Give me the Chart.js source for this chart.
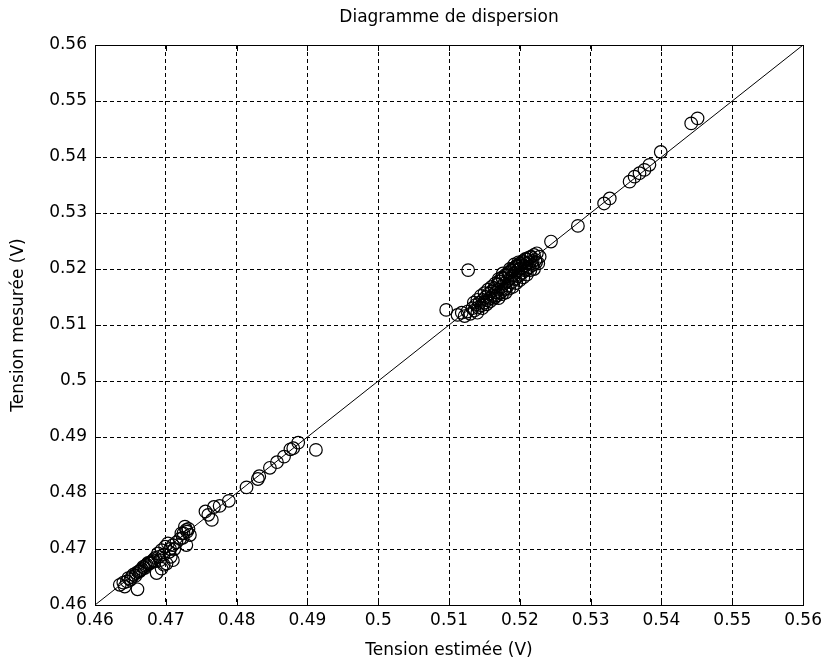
<!DOCTYPE html>
<html>
<head>
<meta charset="utf-8">
<script src="https://cdn.jsdelivr.net/npm/chart.js@4.4.1/dist/chart.umd.min.js"></script>
<style>
  html, body { margin: 0; padding: 0; background: #fff; }
  #wrap { width: 827px; height: 666px; position: relative; }
</style>
</head>
<body>
<div id="wrap"><canvas id="c" width="827" height="666"></canvas></div>
<script>
// ---- Data ----
const chartTitle = 'Diagramme de dispersion';
const xTitle = 'Tension estimée (V)';
const yTitle = 'Tension mesurée (V)';

const tickValues = [0.46, 0.47, 0.48, 0.49, 0.50, 0.51, 0.52, 0.53, 0.54, 0.55, 0.56];
const tickLabels = ['0.46', '0.47', '0.48', '0.49', '0.5', '0.51', '0.52', '0.53', '0.54', '0.55', '0.56'];

// estimated voltage (x)
const estimated = [
  // lower cluster
  0.4635, 0.4642, 0.4660, 0.4647, 0.4650, 0.4654, 0.4657, 0.4661, 0.4664, 0.4668,
  0.4671, 0.4675, 0.4678, 0.4682, 0.4685, 0.4687, 0.4694, 0.4701, 0.4710, 0.4689,
  0.4694, 0.4699, 0.4703, 0.4710, 0.4706, 0.4729, 0.4725, 0.4729, 0.4727, 0.4734,
  0.4732,
  0.4640, 0.4645, 0.4652, 0.4658, 0.4663, 0.4666, 0.4670, 0.4673, 0.4677, 0.4680,
  0.4684, 0.4690, 0.4692, 0.4697, 0.4697, 0.4705, 0.4707, 0.4712, 0.4715, 0.4720,
  0.4722, 0.4724, 0.4730,
  // 0.476 - 0.49
  0.4756, 0.4760, 0.4765, 0.4768, 0.4776, 0.4789,
  0.4814, 0.4830, 0.4832, 0.4847, 0.4857, 0.4867, 0.4876, 0.4880, 0.4887, 0.4912,
  // outliers near 0.51
  0.5096, 0.5127,
  // middle cluster
  0.5112, 0.5118, 0.5122, 0.5126, 0.5130, 0.5133, 0.5136, 0.5138, 0.5141, 0.5143,
  0.5146, 0.5148, 0.5150, 0.5152, 0.5154, 0.5156, 0.5158, 0.5160, 0.5162, 0.5164,
  0.5166, 0.5168, 0.5170, 0.5172, 0.5174, 0.5176, 0.5178, 0.5180, 0.5182, 0.5184,
  0.5186, 0.5188, 0.5190, 0.5192, 0.5194, 0.5196, 0.5198, 0.5200, 0.5202, 0.5204,
  0.5206, 0.5208, 0.5210, 0.5212, 0.5214, 0.5216, 0.5218, 0.5220, 0.5222, 0.5224,
  0.5226, 0.5228, 0.5186, 0.5192, 0.5198, 0.5176, 0.5170, 0.5200, 0.5210, 0.5180,
  0.5135, 0.5140, 0.5145, 0.5150, 0.5155, 0.5160, 0.5165, 0.5170, 0.5175, 0.5180,
  0.5185, 0.5190, 0.5195, 0.5200, 0.5205, 0.5210, 0.5215,
  0.5140, 0.5147, 0.5153, 0.5158, 0.5163, 0.5168, 0.5173, 0.5178, 0.5183, 0.5188,
  0.5193, 0.5198, 0.5203, 0.5208, 0.5213, 0.5218, 0.5223,
  0.5215, 0.5205, 0.5195, 0.5185, 0.5175, 0.5165,
  0.5200, 0.5210, 0.5190, 0.5180, 0.5170, 0.5220,
  // upper points
  0.5244, 0.5282, 0.5319, 0.5327, 0.5355, 0.5362, 0.5369, 0.5376, 0.5383, 0.5399,
  0.5442, 0.5451
];
// measured voltage (y)
const measured = [
  // lower cluster
  0.4636, 0.4633, 0.4628, 0.4648, 0.4645, 0.4654, 0.4652, 0.4659, 0.4662, 0.4668,
  0.4670, 0.4675, 0.4676, 0.4680, 0.4684, 0.4657, 0.4665, 0.4674, 0.4680, 0.4692,
  0.4698, 0.4704, 0.4710, 0.4707, 0.4700, 0.4707, 0.4728, 0.4734, 0.4740, 0.4725,
  0.4736,
  0.4640, 0.4642, 0.4650, 0.4657, 0.4660, 0.4664, 0.4666, 0.4672, 0.4674, 0.4677,
  0.4678, 0.4686, 0.4680, 0.4690, 0.4672, 0.4695, 0.4686, 0.4700, 0.4712, 0.4718,
  0.4728, 0.4720, 0.4731,
  // 0.476 - 0.49
  0.4767, 0.4761, 0.4752, 0.4775, 0.4777, 0.4786,
  0.4810, 0.4825, 0.4830, 0.4845, 0.4855, 0.4865, 0.4878, 0.4880, 0.4890, 0.4877,
  // outliers near 0.51
  0.5127, 0.5198,
  // middle cluster
  0.5118, 0.5122, 0.5116, 0.5124, 0.5120, 0.5130, 0.5126, 0.5136, 0.5131, 0.5140,
  0.5135, 0.5145, 0.5140, 0.5150, 0.5144, 0.5156, 0.5148, 0.5160, 0.5152, 0.5166,
  0.5158, 0.5172, 0.5163, 0.5178, 0.5168, 0.5183, 0.5174, 0.5188, 0.5178, 0.5193,
  0.5183, 0.5197, 0.5188, 0.5202, 0.5193, 0.5206, 0.5198, 0.5210, 0.5202, 0.5214,
  0.5206, 0.5218, 0.5210, 0.5220, 0.5212, 0.5222, 0.5214, 0.5225, 0.5216, 0.5228,
  0.5210, 0.5222, 0.5200, 0.5208, 0.5212, 0.5192, 0.5182, 0.5190, 0.5200, 0.5165,
  0.5140, 0.5145, 0.5152, 0.5157, 0.5163, 0.5168, 0.5174, 0.5178, 0.5185, 0.5190,
  0.5195, 0.5200, 0.5205, 0.5207, 0.5212, 0.5217, 0.5221,
  0.5122, 0.5130, 0.5137, 0.5142, 0.5147, 0.5153, 0.5158, 0.5163, 0.5170, 0.5176,
  0.5182, 0.5187, 0.5193, 0.5197, 0.5203, 0.5207, 0.5212,
  0.5198, 0.5185, 0.5175, 0.5165, 0.5155, 0.5150,
  0.5180, 0.5190, 0.5168, 0.5158, 0.5148, 0.5200,
  // upper points
  0.5249, 0.5277, 0.5317, 0.5326, 0.5356, 0.5365, 0.5371, 0.5377, 0.5386, 0.5409,
  0.5460, 0.5469
];
// identity reference line y = x
const lineX = [0.46, 0.56];
const lineY = [0.46, 0.56];

const FONT = 'DejaVu Sans';
const FONT_SIZE = 17;

const scatterPoints = estimated.map((x, i) => ({ x: x, y: measured[i] }));
const linePoints = lineX.map((x, i) => ({ x: x, y: lineY[i] }));

const boxPlugin = {
  id: 'matlabBox',
  afterDraw(chart) {
    const { ctx, chartArea: a, scales } = chart;
    ctx.save();
    ctx.strokeStyle = '#000';
    ctx.lineWidth = 1;
    ctx.setLineDash([]);
    ctx.strokeRect(Math.round(a.left) + 0.5, Math.round(a.top) + 0.5,
                   Math.round(a.right - a.left), Math.round(a.bottom - a.top));
    const tl = 6;
    ctx.beginPath();
    tickValues.forEach(v => {
      const px = Math.round(scales.x.getPixelForValue(v)) + 0.5;
      ctx.moveTo(px, a.bottom); ctx.lineTo(px, a.bottom - tl);
      ctx.moveTo(px, a.top); ctx.lineTo(px, a.top + tl);
      const py = Math.round(scales.y.getPixelForValue(v)) + 0.5;
      ctx.moveTo(a.left, py); ctx.lineTo(a.left + tl, py);
      ctx.moveTo(a.right, py); ctx.lineTo(a.right - tl, py);
    });
    ctx.stroke();
    ctx.fillStyle = '#000';
    ctx.font = FONT_SIZE + 'px "' + FONT + '"';
    ctx.textAlign = 'center';
    ctx.textBaseline = 'middle';
    const cx = (a.left + a.right) / 2;
    ctx.fillText(chartTitle, cx, 18);
    ctx.fillText(xTitle, cx, 651);
    ctx.translate(19, (a.top + a.bottom) / 2);
    ctx.rotate(-Math.PI / 2);
    ctx.fillText(yTitle, 0, 0);
    ctx.restore();
  }
};

const axisCommon = (isX) => ({
  type: 'linear',
  min: 0.46,
  max: 0.56,
  afterBuildTicks: (scale) => { scale.ticks = tickValues.map(v => ({ value: v })); },
  afterFit: (scale) => { if (isX) scale.height = 61; else scale.width = 95; },
  ticks: {
    color: '#000',
    font: { family: FONT, size: FONT_SIZE },
    padding: isX ? 5 : 8,
    maxRotation: 0,
    autoSkip: false,
    callback: (v) => {
      const i = tickValues.findIndex(t => Math.abs(t - v) < 1e-9);
      return i >= 0 ? tickLabels[i] : '';
    }
  },
  grid: {
    color: '#000',
    lineWidth: 1,
    drawTicks: false,
    drawOnChartArea: true
  },
  border: { display: true, color: '#000', width: 1, dash: [4, 3] }
});

new Chart(document.getElementById('c'), {
  type: 'scatter',
  data: {
    datasets: [
      {
        label: 'mesures',
        data: scatterPoints,
        pointStyle: 'circle',
        pointRadius: 6.3,
        pointHoverRadius: 6.3,
        pointBorderColor: '#000',
        pointBackgroundColor: 'rgba(0,0,0,0)',
        pointBorderWidth: 1.2,
        showLine: false
      },
      {
        label: 'y = x',
        data: linePoints,
        showLine: true,
        borderColor: '#000',
        borderWidth: 1,
        pointRadius: 0,
        fill: false
      }
    ]
  },
  options: {
    responsive: false,
    animation: false,
    devicePixelRatio: 1,
    layout: { padding: { top: 45, right: 23, bottom: 0, left: 0 } },
    plugins: {
      legend: { display: false },
      title: { display: false },
      tooltip: { enabled: false }
    },
    scales: {
      x: axisCommon(true),
      y: axisCommon(false)
    }
  },
  plugins: [boxPlugin]
});
</script>
</body>
</html>
